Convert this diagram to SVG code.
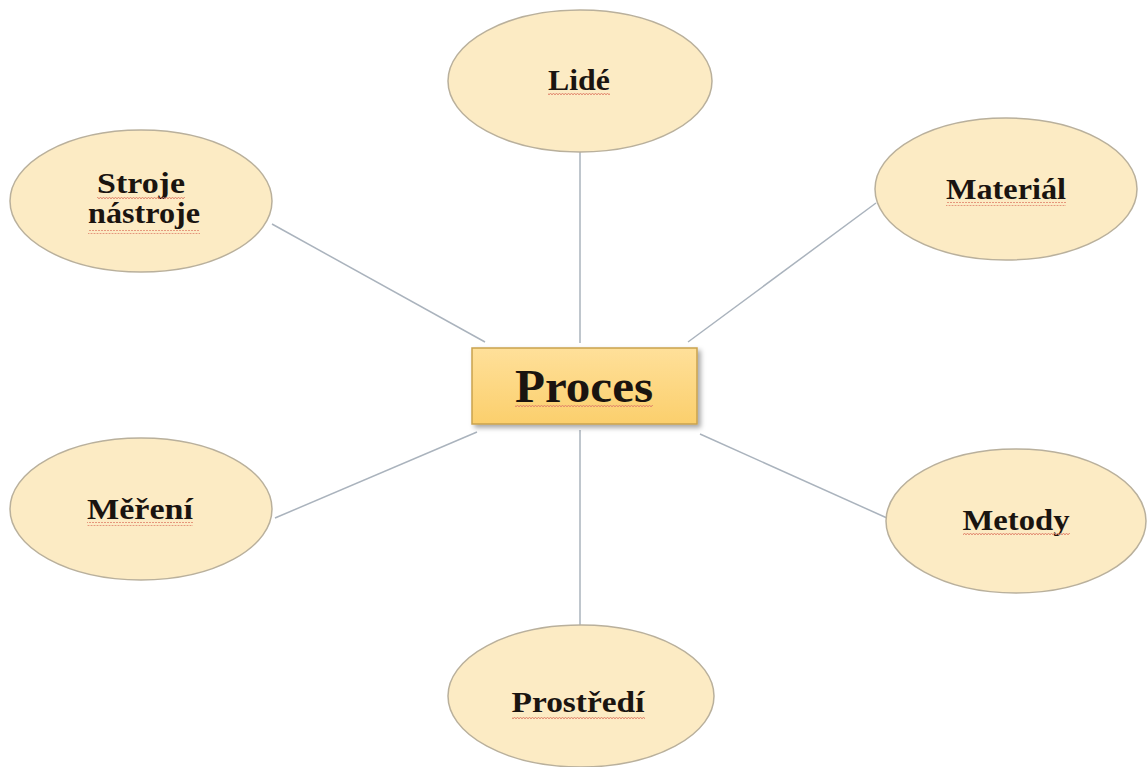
<svg xmlns="http://www.w3.org/2000/svg" width="1148" height="767" viewBox="0 0 1148 767">
  <style>
    .bubble { fill: #fcebc4; stroke: #b9b09c; stroke-width: 1.5; }
    .label { font-family: "Liberation Serif", "Times New Roman", serif; font-weight: bold; font-size: 28.5px; fill: #1a1410; text-anchor: middle; }
    .link { stroke: #aab3bd; stroke-width: 1.5; fill: none; }
  </style>
  <defs>
    <linearGradient id="procFill" x1="0" y1="0" x2="0" y2="1">
      <stop offset="0" stop-color="#ffe09a"/>
      <stop offset="1" stop-color="#fbcf6c"/>
    </linearGradient>
    <filter id="shadow" x="-10%" y="-20%" width="125%" height="150%">
      <feDropShadow dx="3" dy="3" stdDeviation="2.5" flood-color="#000" flood-opacity="0.35"/>
    </filter>
    <!-- red spell-check style squiggle under each word -->
    <pattern id="wave" width="6" height="4" patternUnits="userSpaceOnUse">
      <path d="M0 3 L1.5 1 L3 3 L4.5 1 L6 3" stroke="#e0826a" stroke-width="0.9" fill="none"/>
    </pattern>
  </defs>

  <rect width="1148" height="767" fill="#ffffff"/>

  <!-- spokes from the central box to each factor -->
  <g id="connectors">
    <line class="link" x1="580" y1="152" x2="580" y2="343"/>
    <line class="link" x1="272" y1="224" x2="485" y2="342"/>
    <line class="link" x1="876" y1="203" x2="688" y2="342"/>
    <line class="link" x1="275" y1="518" x2="477" y2="432"/>
    <line class="link" x1="887" y1="518" x2="700" y2="434"/>
    <line class="link" x1="580" y1="430" x2="580" y2="625"/>
  </g>

  <g id="node-lide">
    <ellipse class="bubble" cx="580" cy="81" rx="132" ry="71"/>
    <text class="label" x="579" y="90" textLength="62" lengthAdjust="spacingAndGlyphs">Lidé</text>
    <rect x="548" y="93" width="62" height="4" fill="url(#wave)"/>
  </g>

  <g id="node-stroje">
    <ellipse class="bubble" cx="141" cy="201" rx="131" ry="71"/>
    <text class="label" x="141" y="193" textLength="88" lengthAdjust="spacingAndGlyphs">Stroje</text>
    <text class="label" x="144" y="223" textLength="112" lengthAdjust="spacingAndGlyphs">nástroje</text>
    <rect x="97" y="196" width="88" height="4" fill="url(#wave)"/>
    <rect x="88" y="230" width="112" height="4" fill="url(#wave)"/>
  </g>

  <g id="node-material">
    <ellipse class="bubble" cx="1006" cy="189" rx="131" ry="71"/>
    <text class="label" x="1006" y="199" textLength="120" lengthAdjust="spacingAndGlyphs">Materiál</text>
    <rect x="946" y="202" width="120" height="4" fill="url(#wave)"/>
  </g>

  <g id="node-mereni">
    <ellipse class="bubble" cx="141" cy="509" rx="131" ry="71"/>
    <text class="label" x="140" y="519" textLength="106" lengthAdjust="spacingAndGlyphs">Měření</text>
    <rect x="87" y="522" width="106" height="4" fill="url(#wave)"/>
  </g>

  <g id="node-metody">
    <ellipse class="bubble" cx="1016" cy="521" rx="130" ry="72"/>
    <text class="label" x="1016" y="530" textLength="107" lengthAdjust="spacingAndGlyphs">Metody</text>
    <rect x="963" y="533" width="107" height="4" fill="url(#wave)"/>
  </g>

  <g id="node-prostredi">
    <ellipse class="bubble" cx="581" cy="696" rx="133" ry="71"/>
    <text class="label" x="578" y="712" textLength="133" lengthAdjust="spacingAndGlyphs">Prostředí</text>
    <rect x="512" y="715" width="133" height="4" fill="url(#wave)"/>
  </g>

  <g id="node-proces">
    <rect x="472" y="348" width="225" height="76" fill="url(#procFill)" stroke="#c9a24e" stroke-width="1.5" filter="url(#shadow)"/>
    <text class="label" x="584" y="402" style="font-size:46px" textLength="138" lengthAdjust="spacingAndGlyphs">Proces</text>
    <rect x="515" y="405" width="138" height="4" fill="url(#wave)"/>
  </g>
</svg>
